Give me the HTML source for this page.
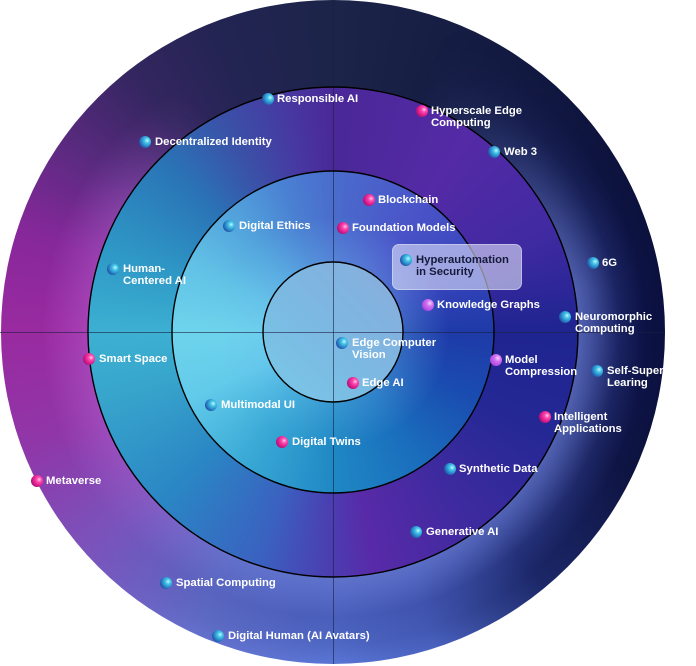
<!DOCTYPE html>
<html><head><meta charset="utf-8"><style>
html,body{margin:0;padding:0;background:#fff;}
#w{position:relative;width:696px;height:666px;overflow:hidden;background:#fff;font-family:"Liberation Sans",Arial,sans-serif;}
.d{position:absolute;border-radius:50%;}
#o{left:1px;top:0;width:664px;height:664px;background:conic-gradient(from 0deg at 50% 50%, #1c2449 0deg, #141b42 30deg, #0d133c 60deg, #0b1040 90deg, #0e1440 115deg, #1c2868 140deg, #4a62c0 162deg, #5a76d6 180deg, #6470cc 205deg, #7a54bc 228deg, #9036a8 250deg, #9a2aa0 270deg, #86289a 288deg, #5a2a80 305deg, #342660 322deg, #222452 340deg, #1c2449 360deg);}
#og{left:1px;top:0;width:664px;height:664px;background:radial-gradient(circle closest-side, rgba(0,0,0,0) 73.6%, rgba(96,114,200,0.82) 74%, rgba(88,106,195,0.72) 77.5%, rgba(50,64,150,0.42) 86%, rgba(20,30,100,0.15) 94%, rgba(0,0,0,0) 100%);-webkit-mask-image:conic-gradient(from 0deg, transparent 0deg 20deg, rgba(0,0,0,.4) 45deg, #000 80deg 185deg, transparent 230deg 360deg);mask-image:conic-gradient(from 0deg, transparent 0deg 20deg, rgba(0,0,0,.4) 45deg, #000 80deg 185deg, transparent 230deg 360deg);}
#ol{left:1px;top:0;width:664px;height:664px;background:radial-gradient(circle closest-side, rgba(0,0,0,0) 73.6%, rgba(200,120,230,0.3) 73.8%, rgba(0,0,0,0) 88%);-webkit-mask-image:conic-gradient(from 0deg, transparent 0deg 200deg, #000 250deg 300deg, transparent 330deg 360deg);mask-image:conic-gradient(from 0deg, transparent 0deg 200deg, #000 250deg 300deg, transparent 330deg 360deg);}
#r3{left:88px;top:87px;width:490px;height:490px;background:conic-gradient(from 0deg at 50% 50%, #4a2898 0deg, #542aa6 35deg, #402aa2 65deg, #1e2490 90deg, #242894 115deg, #3a2a9e 140deg, #582aa8 170deg, #4a40b2 182deg, #3a62c0 198deg, #2a86c4 225deg, #38a6cc 255deg, #3cb0d2 270deg, #2e98c6 290deg, #2a74b6 315deg, #3a52a8 332deg, #4836a0 350deg, #4a2898 360deg);}
#r2{left:172px;top:171px;width:322px;height:322px;background:conic-gradient(from 0deg at 50% 50%, #4a6ccc 0deg, #4a54c8 35deg, #3844bc 65deg, #1e3aa8 90deg, #1a4cb0 115deg, #1a6cbc 145deg, #1f88c4 180deg, #3aaad6 215deg, #62caea 245deg, #6ed4ec 270deg, #62c2e6 295deg, #52a2dc 320deg, #4a80d2 342deg, #4a6ccc 360deg);}
#r2g{left:172px;top:171px;width:322px;height:322px;background:radial-gradient(circle closest-side, rgba(110,190,240,0.3) 43%, rgba(110,190,240,0) 72%);}
#r1{left:263px;top:262px;width:140px;height:140px;background:linear-gradient(to top right, #78c8e8 0%, #7cb8e2 50%, #8aacdc 100%);}
svg{position:absolute;left:0;top:0;}
.dot{position:absolute;width:12px;height:12px;border-radius:50%;}
.c{background:radial-gradient(circle at 68% 38%, #c8f8ff 0, #48c8e8 22%, #2a8ccc 50%, #23449a 80%, #1c2a6a 100%);}
.m{background:radial-gradient(circle at 68% 38%, #ffd0ec 0, #ff4cb0 22%, #e0208e 50%, #a01070 80%, #5a0c50 100%);}
.p{background:radial-gradient(circle at 65% 35%, #f4d0ff 0, #d070f0 30%, #b048e0 70%, #8a30c0 100%);}
.t{position:absolute;color:#fff;font-size:11.3px;line-height:12px;font-weight:bold;white-space:nowrap;}
#box{position:absolute;left:392px;top:244px;width:128px;height:44px;border-radius:7px;background:rgba(225,228,250,0.6);border:1px solid rgba(255,255,255,0.35);}
</style></head><body><div id="w">
<div class="d" id="o"></div>
<div class="d" id="og"></div>
<div class="d" id="ol"></div>
<div class="d" id="r3"></div>
<div class="d" id="r2"></div>
<div class="d" id="r2g"></div>
<div class="d" id="r1"></div>
<svg width="696" height="666" viewBox="0 0 696 666">
<line x1="333.5" y1="0" x2="333.5" y2="664" stroke="#1a2040" stroke-opacity="0.6" stroke-width="1"/>
<line x1="0" y1="332.5" x2="665" y2="332.5" stroke="#1a2040" stroke-opacity="0.6" stroke-width="1"/>
<circle cx="333" cy="332" r="70" fill="none" stroke="#000" stroke-width="1.4"/>
<circle cx="333" cy="332" r="161" fill="none" stroke="#000" stroke-width="1.4"/>
<circle cx="333" cy="332" r="245" fill="none" stroke="#000" stroke-width="1.4"/>
</svg>
<div id="box"></div>

<div class="dot c" style="left:262px;top:93px"></div><div class="t" style="left:277px;top:93px">Responsible AI</div>
<div class="dot c" style="left:139px;top:136px"></div><div class="t" style="left:155px;top:136px">Decentralized Identity</div>
<div class="dot c" style="left:223px;top:220px"></div><div class="t" style="left:239px;top:220px">Digital Ethics</div>
<div class="dot c" style="left:107px;top:263px"></div><div class="t" style="left:123px;top:263px">Human-<br>Centered AI</div>
<div class="dot m" style="left:362.5px;top:194px"></div><div class="t" style="left:378px;top:194px">Blockchain</div>
<div class="dot m" style="left:337px;top:222px"></div><div class="t" style="left:352px;top:222px">Foundation Models</div>
<div class="dot c" style="left:400px;top:254px"></div><div class="t" style="left:416px;top:254px;color:#151a3a">Hyperautomation<br>in Security</div>
<div class="dot p" style="left:422px;top:299px"></div><div class="t" style="left:437px;top:299px">Knowledge Graphs</div>
<div class="dot c" style="left:336px;top:337px"></div><div class="t" style="left:352px;top:337px">Edge Computer<br>Vision</div>
<div class="dot m" style="left:347px;top:377px"></div><div class="t" style="left:362px;top:377px">Edge AI</div>
<div class="dot c" style="left:205px;top:399px"></div><div class="t" style="left:221px;top:399px">Multimodal UI</div>
<div class="dot m" style="left:276px;top:436px"></div><div class="t" style="left:292px;top:436px">Digital Twins</div>
<div class="dot m" style="left:83px;top:353px"></div><div class="t" style="left:99px;top:353px">Smart Space</div>
<div class="dot m" style="left:31px;top:475px"></div><div class="t" style="left:46px;top:475px">Metaverse</div>
<div class="dot c" style="left:160px;top:577px"></div><div class="t" style="left:176px;top:577px">Spatial Computing</div>
<div class="dot c" style="left:212px;top:630px"></div><div class="t" style="left:228px;top:630px">Digital Human (AI Avatars)</div>
<div class="dot m" style="left:416px;top:105px"></div><div class="t" style="left:431px;top:105px">Hyperscale Edge<br>Computing</div>
<div class="dot c" style="left:488px;top:146px"></div><div class="t" style="left:504px;top:146px">Web 3</div>
<div class="dot c" style="left:587px;top:257px"></div><div class="t" style="left:602px;top:257px">6G</div>
<div class="dot c" style="left:559px;top:311px"></div><div class="t" style="left:575px;top:311px">Neuromorphic<br>Computing</div>
<div class="dot p" style="left:490px;top:354px"></div><div class="t" style="left:505px;top:354px">Model<br>Compression</div>
<div class="dot c" style="left:591px;top:365px"></div><div class="t" style="left:607px;top:365px">Self-Supervised<br>Learing</div>
<div class="dot m" style="left:539px;top:411px"></div><div class="t" style="left:554px;top:411px">Intelligent<br>Applications</div>
<div class="dot c" style="left:444px;top:463px"></div><div class="t" style="left:459px;top:463px">Synthetic Data</div>
<div class="dot c" style="left:410px;top:526px"></div><div class="t" style="left:426px;top:526px">Generative AI</div>
</div></body></html>
